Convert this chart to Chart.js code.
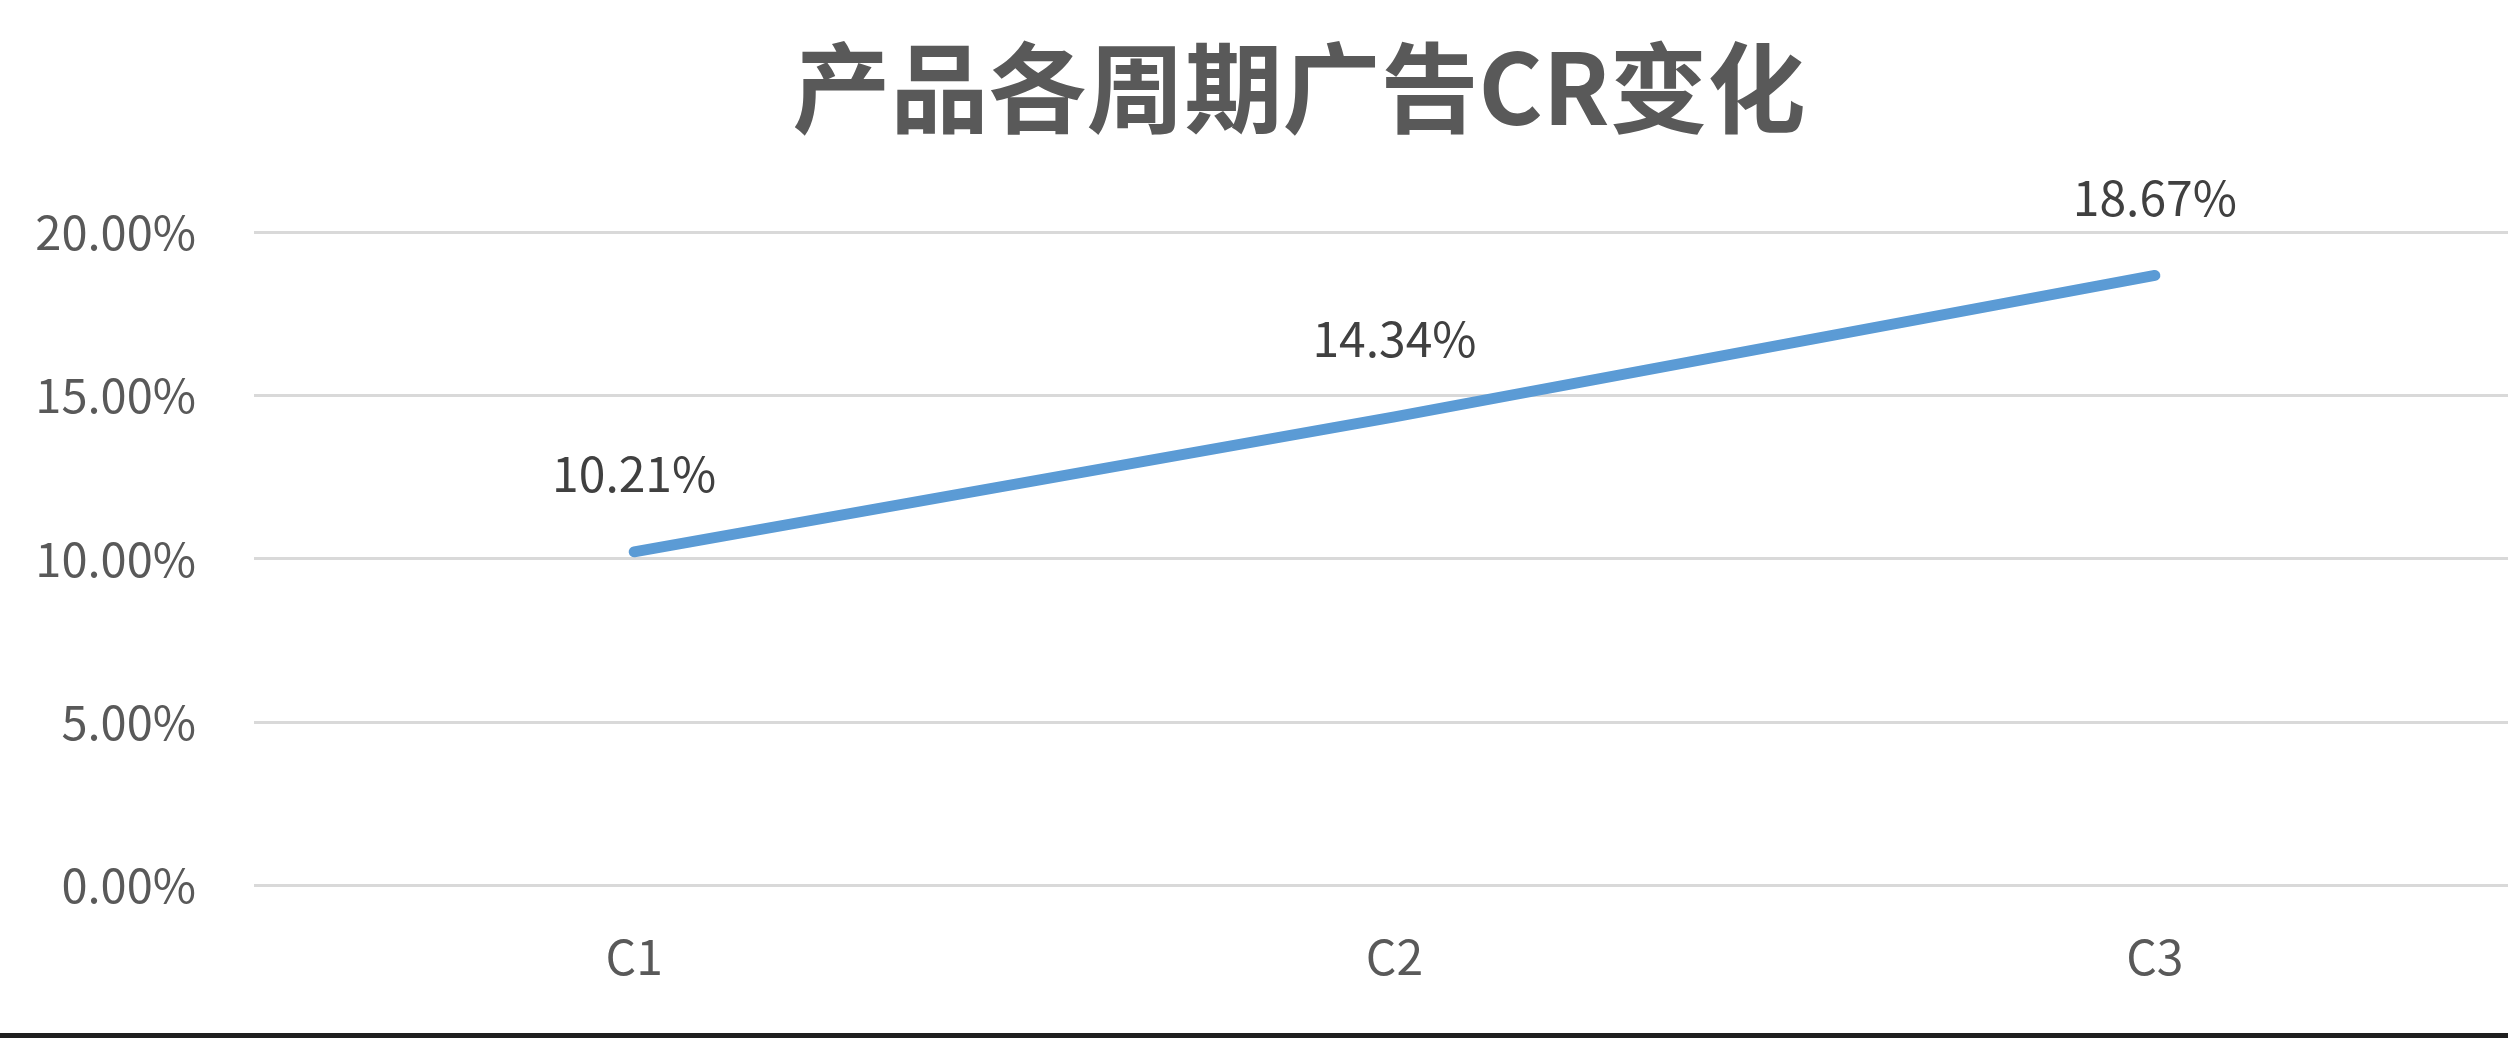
<!DOCTYPE html>
<html lang="zh-CN">
<head>
<meta charset="utf-8">
<title>产品各周期广告CR变化</title>
<script src="https://cdn.jsdelivr.net/npm/chart.js@4.4.0/dist/chart.umd.min.js"></script>
<style>
  html, body { margin: 0; padding: 0; background: #fff; overflow: hidden; }
  #wrap { position: relative; width: 2508px; height: 1038px; overflow: hidden; }
  #chart-title {
    position: absolute; left: 0; top: 23px; width: 2598px;
    text-align: center; margin: 0;
    font: bold 98px/118px 'Noto Sans CJK SC', 'Noto Sans', sans-serif;
    color: #595959;
  }
  #cr-chart { position: absolute; left: 0; top: 0; }
  #bottom-bar { position: absolute; left: 0; right: 0; bottom: 0; height: 5px; background: #1f1f1f; }
</style>
</head>
<body>
<div id="wrap">
  <canvas id="cr-chart" width="2598" height="1038"></canvas>
  <h1 id="chart-title"></h1>
  <div id="bottom-bar"></div>
</div>
<script>
// Chart data
const chartTitle = '产品各周期广告CR变化';
const periods = ['C1', 'C2', 'C3'];
const crValues = [0.1021, 0.1434, 0.1867];
const yTicks = [0, 0.05, 0.10, 0.15, 0.20];

const FONT = "'Noto Sans CJK SC', 'Noto Sans', sans-serif";

const pct = v => (v * 100).toFixed(2) + '%';

document.getElementById('chart-title').textContent = chartTitle;

// Draws value labels above each point (Excel style)
const valueLabels = {
  id: 'valueLabels',
  afterDatasetsDraw(chart) {
    const ctx = chart.ctx;
    const meta = chart.getDatasetMeta(0);
    ctx.save();
    ctx.font = '48px ' + FONT;
    ctx.fillStyle = '#404040';
    ctx.textAlign = 'center';
    ctx.textBaseline = 'middle';
    meta.data.forEach((pt, i) => {
      ctx.fillText(pct(crValues[i]), pt.x, pt.y - 78);
    });
    ctx.restore();
  }
};

const ctx = document.getElementById('cr-chart');

new Chart(ctx, {
  type: 'line',
  data: {
    labels: periods,
    datasets: [{
      data: crValues,
      borderColor: '#5B9BD5',
      backgroundColor: '#5B9BD5',
      borderWidth: 11,
      borderCapStyle: 'round',
      borderJoinStyle: 'round',
      pointRadius: 0,
      tension: 0,
      fill: false
    }]
  },
  options: {
    responsive: false,
    animation: false,
    layout: {
      padding: { left: 0, right: 63, top: 232, bottom: 9 }
    },
    scales: {
      x: {
        offset: true,
        grid: { display: false, drawTicks: false },
        border: { display: false },
        ticks: {
          padding: 43,
          color: '#595959',
          font: { family: FONT, size: 48 }
        }
      },
      y: {
        min: 0,
        max: 0.2,
        afterBuildTicks(scale) {
          scale.ticks = yTicks.map(v => ({ value: v }));
        },
        afterFit(scale) {
          scale.width = 254;
        },
        grid: { color: '#d9d9d9', lineWidth: 3, drawTicks: false },
        border: { display: false },
        ticks: {
          padding: 58,
          color: '#595959',
          font: { family: FONT, size: 47 },
          callback: v => pct(v)
        }
      }
    },
    plugins: {
      legend: { display: false },
      tooltip: { enabled: false },
      title: { display: false }
    }
  },
  plugins: [valueLabels]
});
</script>
</body>
</html>
